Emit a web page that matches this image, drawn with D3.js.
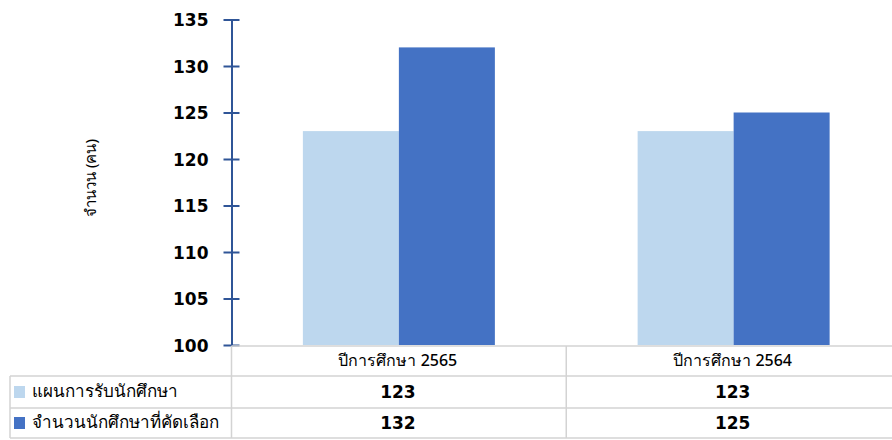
<!DOCTYPE html>
<html><head><meta charset="utf-8">
<script src="https://cdn.jsdelivr.net/npm/d3@7"></script>
<style>body{margin:0;background:#fff}svg{display:block}</style>
</head><body><svg id="c" width="892" height="440"></svg>
<script>
const categories = ["ปีการศึกษา 2565", "ปีการศึกษา 2564"];
const seriesNames = ["แผนการรับนักศึกษา", "จำนวนนักศึกษาที่คัดเลือก"];
const planValues = [123, 123];
const selectedValues = [132, 125];
const yTicks = [100, 105, 110, 115, 120, 125, 130, 135];
const yTitle = "จำนวน (คน)";
const colors = ["#BDD7EE", "#4472C4"];

(function draw() {
const series = [planValues, selectedValues];
const svg = d3.select("#c");
const pl = 231.5, pr = 901, pt = 19.5, pb = 345;
const y = d3.scaleLinear().domain([100, 135]).range([pb, pt]);
const x0 = d3.scaleBand().domain(categories).range([pl, pr]).paddingInner(0).paddingOuter(0);
const groupW = 192;
const x1 = d3.scaleBand().domain(d3.range(series.length)).range([0, groupW]).padding(0);

const num = "'DejaVu Sans', Verdana, sans-serif";
const thai = "Tahoma, 'Noto Sans', 'DejaVu Sans', sans-serif";

categories.forEach((c, ci) => {
  const gx = x0(c) + (x0.bandwidth() - groupW) / 2;
  series.forEach((s, si) => {
    svg.append("rect")
      .attr("x", gx + x1(si)).attr("width", x1.bandwidth())
      .attr("y", y(s[ci])).attr("height", y(100) - y(s[ci]))
      .attr("fill", colors[si]);
  });
});

const ax = svg.append("g").attr("transform", `translate(${pl},0)`)
  .call(d3.axisLeft(y).tickValues(yTicks).tickSize(0).tickPadding(23));
ax.select(".domain").attr("stroke", "#2F5597").attr("stroke-width", 2);
ax.selectAll(".tick line").attr("x1", -8).attr("x2", 8).attr("stroke", "#2F5597").attr("stroke-width", 2);
ax.selectAll(".tick text").attr("font-family", num).attr("font-weight", "bold")
  .attr("font-size", 17).attr("fill", "#000").attr("dy", "0.36em");

svg.append("text").attr("transform", `translate(96,178) rotate(-90)`)
  .attr("text-anchor", "middle").attr("font-family", thai).attr("font-size", 15)
  .attr("fill", "#000").text(yTitle);

const grid = "#d3d3d3";
const rowY = [346, 376, 408, 438];
const tbl = svg.append("g");
const line = (a, b, c, d) => tbl.append("line")
  .attr("x1", a).attr("y1", b).attr("x2", c).attr("y2", d)
  .attr("stroke", grid).attr("stroke-width", 1.5);
line(pl, rowY[0], 892, rowY[0]);
line(10, rowY[1], 892, rowY[1]);
line(10, rowY[2], 892, rowY[2]);
line(10, rowY[3], 892, rowY[3]);
line(10, rowY[1], 10, rowY[3]);
line(pl, rowY[0], pl, rowY[3]);
line(x0(categories[1]), rowY[0], x0(categories[1]), rowY[3]);

categories.forEach(c => {
  tbl.append("text").attr("x", x0(c) + x0.bandwidth() / 2 - 1).attr("y", (rowY[0] + rowY[1]) / 2 + 5)
    .attr("text-anchor", "middle").attr("font-family", thai).attr("font-size", 16)
    .attr("font-weight", 500).attr("fill", "#000").text(c);
});
series.forEach((s, si) => {
  const cy = (rowY[si + 1] + rowY[si + 2]) / 2;
  tbl.append("rect").attr("x", 14).attr("y", cy - 6).attr("width", 11).attr("height", 12).attr("fill", colors[si]);
  tbl.append("text").attr("x", 32).attr("y", cy + 5).attr("font-family", thai).attr("font-size", 17)
    .attr("font-weight", 500).attr("fill", "#000").text(seriesNames[si]);
  categories.forEach((c, ci) => {
    tbl.append("text").attr("x", x0(c) + x0.bandwidth() / 2 - 1).attr("y", cy + 6)
      .attr("text-anchor", "middle").attr("font-family", num).attr("font-weight", "bold")
      .attr("font-size", 17).attr("fill", "#000").text(s[ci]);
  });
});
})();
</script></body></html>
